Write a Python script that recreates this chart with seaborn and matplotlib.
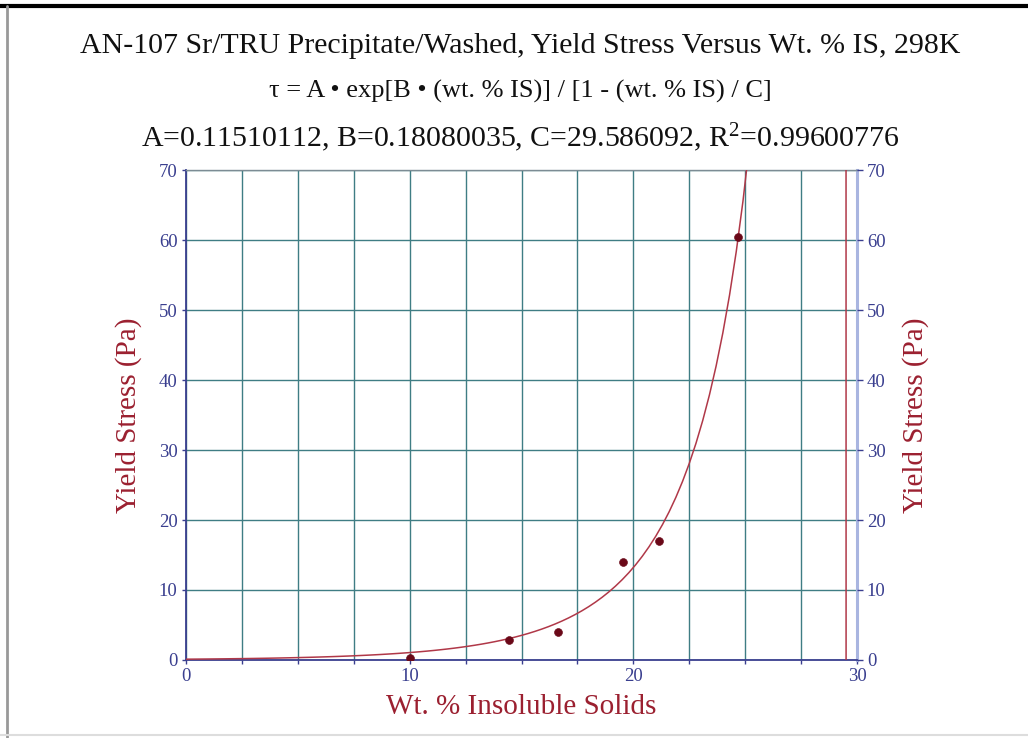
import numpy as np
import pandas as pd
import matplotlib
matplotlib.use("Agg")
import matplotlib.pyplot as plt
from matplotlib.lines import Line2D
import seaborn as sns

# Measured yield stress vs. insoluble solids
wt_pct_is = [10.0, 14.42, 16.65, 19.55, 21.16, 24.69]
yield_stress = [0.3, 2.86, 4.0, 14.0, 17.0, 60.4]

# Fit parameters: tau = A*exp(B*x)/(1 - x/C)
fit_A = 0.11510112
fit_B = 0.18080035
fit_C = 29.586092
fit_R2 = 0.99600776

x_grid = np.arange(0, 30.1, 2.5)
x_ticklabels = ["0", "", "", "", "10", "", "", "", "20", "", "", "", "30"]
y_ticks = [0, 10, 20, 30, 40, 50, 60, 70]

title_lines = [
    "AN-107 Sr/TRU Precipitate/Washed, Yield Stress Versus Wt. % IS, 298K",
    "τ = A • exp[B • (wt. % IS)] / [1 - (wt. % IS) / C]",
    "A=0.11510112, B=0.18080035, C=29.586092, R$^{2}$=0.99600776",
]
title_sizes = [21.5, 19, 21.5]
x_label = "Wt. % Insoluble Solids"
y_label = "Yield Stress (Pa)"

sns.set_theme(style="white")
plt.rcParams["font.family"] = ["Liberation Serif", "DejaVu Serif"]
plt.rcParams["mathtext.fontset"] = "custom"
plt.rcParams["mathtext.rm"] = "Liberation Serif"
plt.rcParams["mathtext.it"] = "Liberation Serif:italic"

navy = "#3a3f8f"
label_red = "#9b2030"
grid_col = "#3f7d84"
curve_col = "#b03848"
pt_col = "#6a0818"

fig = plt.figure(figsize=(10.28, 7.38), dpi=100)
ax = fig.add_axes([0.1809, 0.1057, 0.8337 - 0.1809, 0.7696 - 0.1057])

# Fitted curve sampled across the full axis range
xs = np.linspace(0, 30, 101)
ys = fit_A * np.exp(fit_B * xs) / (1 - xs / fit_C)
curve = pd.DataFrame({"x": xs, "y": ys})
pts = pd.DataFrame({"x": wt_pct_is, "y": yield_stress})

sns.lineplot(data=curve, x="x", y="y", ax=ax, color=curve_col, lw=1.1,
             sort=False, zorder=3)
sns.scatterplot(data=pts, x="x", y="y", ax=ax, color=pt_col, s=32,
                marker="o", edgecolor=pt_col, zorder=4)

ax.set_xlim(0, 30)
ax.set_ylim(0, 70)
ax.set_xticks(x_grid)
ax.set_xticklabels(x_ticklabels)
ax.set_yticks(y_ticks)
ax.grid(True, which="major", color=grid_col, lw=1.0)
ax.set_axisbelow(True)

for side in ["left", "bottom"]:
    ax.spines[side].set_color(navy)
    ax.spines[side].set_linewidth(1.3)
ax.spines["top"].set_color("#7c8c94")
ax.spines["top"].set_linewidth(1.0)
ax.spines["right"].set_color("#a9b5e0")
ax.spines["right"].set_linewidth(2.2)

ax.tick_params(axis="both", which="major", colors=navy, labelsize=13.5,
               length=3, width=1, direction="out", pad=3)
ax.tick_params(axis="y", left=True)
ax.tick_params(axis="x", bottom=True)

ax.set_xlabel(x_label, color=label_red, fontsize=21, labelpad=6)
ax.set_ylabel(y_label, color=label_red, fontsize=21, labelpad=12)

axr = ax.twinx()
axr.set_ylim(0, 70)
axr.set_yticks(y_ticks)
axr.tick_params(axis="y", colors=navy, labelsize=13.5, length=4, width=1,
                direction="out", pad=3)
axr.set_ylabel(y_label, color=label_red, fontsize=21, labelpad=12)
for s in axr.spines.values():
    s.set_visible(False)

# Stacked title lines
for y, line, fs in zip([0.937, 0.876, 0.813], title_lines, title_sizes):
    fig.text(0.506, y, line, ha="center", va="center", fontsize=fs,
             color="#111111")

# Outer frame
fig.add_artist(Line2D([0.0, 1.0], [0.9915, 0.9915], color="black", lw=3,
                      transform=fig.transFigure))
fig.add_artist(Line2D([0.0068, 0.0068], [0.0, 0.992], color="#999999", lw=2,
                      transform=fig.transFigure))
fig.add_artist(Line2D([0.0, 1.0], [0.004, 0.004], color="#dddddd", lw=1.5,
                      transform=fig.transFigure))

fig.savefig("out.png", dpi=100, facecolor="white")
